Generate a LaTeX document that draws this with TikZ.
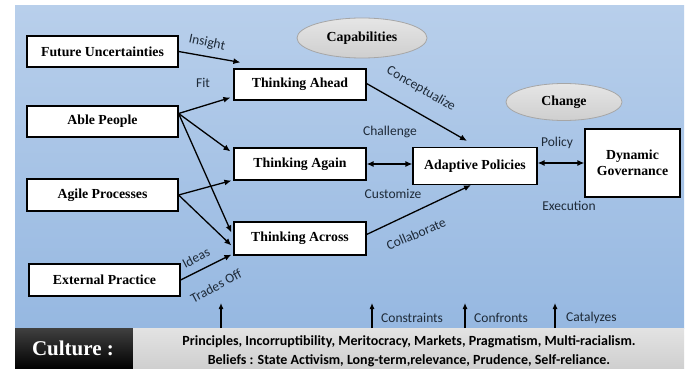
\documentclass[tikz,border=0pt]{standalone}
\usepackage{fontspec}
\setmainfont{Liberation Serif}
\newfontfamily\calibri{Carlito}
\usetikzlibrary{arrows.meta,shapes.geometric,calc}

\definecolor{panelTop}{HTML}{B8CFEB}
\definecolor{panelBot}{HTML}{96B8E1}
\definecolor{labelText}{HTML}{1E2A38}

\tikzset{
    box/.style = {draw=black, line width=1.2pt, fill=white, minimum width=132pt,
        minimum height=31pt, inner sep=1pt, align=center,
        font=\fontsize{13.8}{15.5}\selectfont\bfseries},
    oval/.style = {ellipse, draw=gray!70, line width=0.8pt, top color=gray!20,
        bottom color=gray!38, inner sep=0pt,
        font=\fontsize{13.8}{15.5}\selectfont\bfseries},
    lbl/.style = {text=labelText, inner sep=0pt, font=\calibri\fontsize{13.5}{15}\selectfont},
    link/.style = {line width=1.3pt, -{Latex[length=7pt,width=6pt]}},
    twoway/.style = {line width=1.3pt, {Latex[length=7pt,width=6pt]}-{Latex[length=7pt,width=6pt]}}
}

\begin{document}
\begin{tikzpicture}[x=1pt, y=-1pt, color = {black}]
    \useasboundingbox (0,0) rectangle (688,369);
    \fill[white] (0,0) rectangle (688,369);
    \shade[top color=panelTop, bottom color=panelBot] (15,6) rectangle (684,328);

    % culture bar
    \shade[top color=black!75, bottom color=black] (15,328) rectangle (133,369);
    \node[text=white, font=\fontsize{21}{23}\selectfont\bfseries] (culture) at (73,348) {Culture :};
    \node[minimum width=551pt, minimum height=41pt, inner sep=0pt, top color=gray!22,
        bottom color=gray!38] (beliefs) at (408.5,348.5) {};
    \node[align=center, inner sep=0pt, font=\calibri\fontsize{14}{19}\selectfont\bfseries] (values) at (409,351)
        {Principles, Incorruptibility, Meritocracy, Markets, Pragmatism, Multi-racialism.\\
         Beliefs : State Activism, Long-term,relevance, Prudence, Self-reliance.};

    % inputs
    \node[box, minimum width=151pt] (fut) at (102.5,51.5) {Future Uncertainties};
    \node[box, minimum width=151pt] (able) at (102.5,121.5) {Able People};
    \node[box, minimum width=151pt, minimum height=32pt] (agile) at (102.5,195) {Agile Processes};
    \node[box, minimum width=151pt, minimum height=32pt] (ext) at (104.5,280) {External Practice};

    % capabilities
    \node[oval, minimum width=130pt, minimum height=40pt] (capab) at (362,38) {Capabilities};
    \node[box] (ahead) at (300,84.5) {Thinking Ahead};
    \node[box, minimum height=32pt] (again) at (300,164) {Thinking Again};
    \node[box, minimum height=33pt] (across) at (300,238.5) {Thinking Across};

    % change
    \node[oval, minimum width=116pt, minimum height=37pt] (change) at (564,102) {Change};
    \node[box, minimum width=124pt, minimum height=37pt] (adaptive) at (475,166) {Adaptive Policies};
    \node[box, minimum width=95pt, minimum height=68pt] (dyn) at (632.5,163) {Dynamic\\Governance};

    % links into the capabilities
    \draw[link] (fut.east) -- ([shift={(7,-6)}]ahead.north west);
    \draw[link] ([yshift=8pt]able.east) -- ([shift={(-3,-3)}]ahead.south west);
    \draw[link] ([yshift=8pt]able.east) -- ([shift={(-3,4)}]again.north west);
    \draw[link] ([yshift=8pt]able.east) -- ([shift={(-2,-6)}]across.west);
    \draw[link] (agile.east) -- ([shift={(-2,0)}]again.south west);
    \draw[link] (agile.east) -- ([shift={(-2,7)}]across.west);
    \draw[link] (ext.east) -- ([shift={(-2,-1)}]across.south west);

    \node[lbl, rotate=-12] (insight) at (207,43) {Insight};
    \node[lbl] (fit) at (203,83) {Fit};
    \node[lbl, rotate=28] (ideas) at (196,258) {Ideas};
    \node[lbl, rotate=28] (trades) at (216,286) {Trades Off};

    % links into the policies
    \draw[link] ([yshift=1pt]ahead.east) -- ([shift={(-8,-6)}]adaptive.north);
    \draw[twoway] (again.east) -- (adaptive.west |- again.east);
    \draw[link] ([yshift=4pt]across.east) -- ([xshift=-4pt]adaptive.south);
    \draw[twoway] (adaptive.east |- dyn.west) -- (dyn.west);

    \node[lbl, rotate=-30] (concept) at (421,89) {Conceptualize};
    \node[lbl] (challenge) at (390,132) {Challenge};
    \node[lbl] (customize) at (393,194) {Customize};
    \node[lbl, rotate=23] (collab) at (416,234) {Collaborate};
    \node[lbl] (policy) at (557,143) {Policy};
    \node[lbl] (execution) at (569,206) {Execution};

    % culture pushing up
    \foreach \x in {221,372,465,555}
        \draw[link, line width=1.1pt, -{Latex[length=6pt,width=5pt]}] (\x,328) -- (\x,303);
    \node[lbl, anchor=west] (constraints) at (381,318) {Constraints};
    \node[lbl, anchor=west] (confronts) at (474,318) {Confronts};
    \node[lbl, anchor=west] (catalyzes) at (566,318) {Catalyzes};
\end{tikzpicture}
\end{document}
